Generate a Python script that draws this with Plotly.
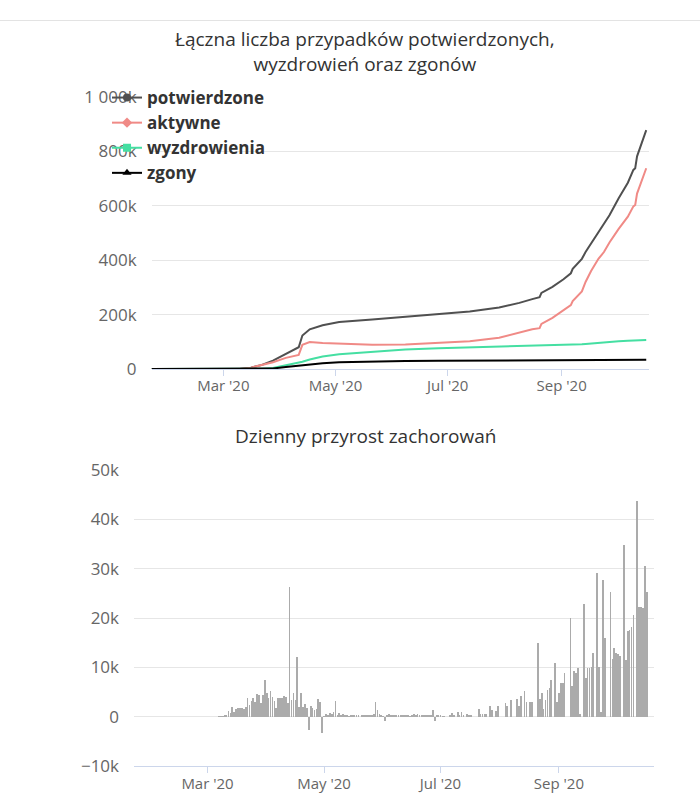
import plotly.graph_objects as go
import pandas as pd

# ---------------- data: cumulative chart (values in thousands) ----------------
line_dates = ["2020-01-22", "2020-03-10", "2020-03-16", "2020-03-22", "2020-03-28",
              "2020-04-04", "2020-04-11", "2020-04-13", "2020-04-17", "2020-04-24",
              "2020-05-03", "2020-05-21", "2020-06-08", "2020-06-26", "2020-07-13",
              "2020-07-29", "2020-08-09", "2020-08-16", "2020-08-20", "2020-08-21",
              "2020-08-27", "2020-09-02", "2020-09-06", "2020-09-07", "2020-09-12",
              "2020-09-14", "2020-09-17", "2020-09-21", "2020-09-24", "2020-09-27",
              "2020-10-02", "2020-10-07", "2020-10-10", "2020-10-11", "2020-10-12",
              "2020-10-17"]
confirmed_k = [0, 0, 5, 15, 31, 56, 80, 123, 146, 161, 173, 182, 191, 200, 211,
               226, 243, 257, 264, 280, 302, 330, 352, 368, 405, 430, 462, 505,
               535, 565, 628, 685, 732, 738, 782, 878]
active_k = [0, 0, 5, 14, 25, 41, 52, 89, 99, 96, 94, 89, 90, 95, 102,
            115, 135, 146, 150, 166, 188, 215, 235, 250, 285, 320, 360, 405,
            430, 465, 515, 560, 598, 603, 645, 738]
recovered_k = [0, 0, 0, 0.5, 4, 13, 23, 27, 35, 46, 54, 64, 72, 76, 79,
               81, 83, 84, 85, 85, 86, 88, 89, 89, 91, 92, 94, 96,
               98, 100, 102, 104, 105, 106, 106, 107]
deaths_k = [0, 0, 0, 0.3, 2, 7, 12, 14, 17, 21, 25, 28, 29, 30, 30.5,
            31, 31.3, 31.5, 31.6, 31.7, 31.9, 32.1, 32.3, 32.3, 32.5, 32.6, 32.8, 33,
            33.1, 33.3, 33.5, 33.7, 33.9, 34, 34, 34.3]

series_names = ["potwierdzone", "aktywne", "wyzdrowienia", "zgony"]
series_colors = ["#505050", "#f08a86", "#45dfa2", "#000000"]
series_symbols = ["circle", "diamond", "square", "triangle-up"]

top_yticks = [0, 200000, 400000, 600000, 800000, 1000000]
top_yticklabels = ["0", "200k", "400k", "600k", "800k", "1 000k"]
x_tickdates = ["2020-03-01", "2020-05-01", "2020-07-01", "2020-09-01"]
x_ticklabels = ["Mar '20", "May '20", "Jul '20", "Sep '20"]

# ---------------- data: daily increase (from 2020-03-01) ----------------
daily_start = "2020-03-01"
daily_new = [
    0, 0, 0, 0, 0, 0,
    50, 40, 60, 400, 270,
    1200, 800, 2000, 1000, 1500,
    1700, 1700, 1700, 1600, 2000,
    3700, 2300, 3200, 3700, 3000,
    4500, 4300, 2700, 4300, 7500,
    4800, 3700, 5200, 3900, 3200,
    1700, 3700, 3700, 3700, 4100,
    4000, 2800, 26300, 3300, 4700,
    3300, 12100, 2000, 4700, 2000,
    2500, 1800, -2800, 2100, 1700,
    1300, 1500, 3500, 3000, -3300,
    100, 600, 400, 750, 600,
    900, 3100, 400, 750, 400,
    600, 200, 400, 100, 350,
    300, 200, 250, 150, 0,
    300, 200, 400, 150, 250,
    300, 500, 2900, 1400, 470,
    200, 100, -900, 300, 500,
    400, 200, 300, 250, 300,
    200, 350, 150, 250, 200,
    100, 300, 500, 400, 600,
    300, 200, 400, 350, 150,
    200, 200, 1300, -950, 400,
    200, 270, 100, 70, 0,
    0, 200, 750, 200, 0,
    880, 200, 880, 200, 0,
    480, 200, 400, 0, 0,
    0, 1600, 500, 500, 500,
    500, 0, 2100, 1300, 0,
    1100, 2100, 0, 0, 0,
    2800, 2200, 0, 3400, 0,
    0, 3600, 2200, 4100, 0,
    5200, 3000, 0, 3000, 2900,
    0, 0, 15000,
    3500, 4700, 1600, 3300, 5400, 5800, 7400,
    0,
    10800, 2900, 4700, 6900, 6900, 8900,
    0, 0,
    20000, 6300, 9200, 8900, 9800, 600,
    0,
    22900, 7900, 9800, 9900, 10100, 13000,
    0,
    29200, 10100, 950, 27800, 16000,
    0, 0,
    25300, 11700, 13900, 13000, 12700, 12200,
    0,
    34800, 11500, 17400, 17600, 18100, 20700,
    0,
    43800, 22200, 22200, 22000, 30500, 25300,
]
bottom_yticks = [-10000, 0, 10000, 20000, 30000, 40000, 50000]
bottom_yticklabels = ["\u221210k", "0", "10k", "20k", "30k", "40k", "50k"]

titles = ["Łączna liczba przypadków potwierdzonych,<br>wyzdrowień oraz zgonów",
          "Dzienny przyrost zachorowań"]

# ---------------- figure ----------------
W, H = 700, 804
def px_x(p):
    return p / W
def px_y(p):
    return 1 - p / H

fig = go.Figure()

for vals, name, col in zip([confirmed_k, active_k, recovered_k, deaths_k],
                           series_names, series_colors):
    fig.add_trace(go.Scatter(
        x=line_dates, y=[v * 1000 for v in vals], mode="lines", name=name,
        line=dict(color=col, width=2), showlegend=False,
        xaxis="x", yaxis="y", hoverinfo="skip"))

for name, col, sym in zip(series_names, series_colors, series_symbols):
    fig.add_trace(go.Scatter(
        x=[None], y=[None], mode="lines+markers", name=name,
        line=dict(color=col, width=2),
        marker=dict(color=col, symbol=sym, size=8),
        showlegend=True, xaxis="x", yaxis="y"))

daily_dates = pd.date_range(daily_start, periods=len(daily_new), freq="D")
fig.add_trace(go.Bar(
    x=daily_dates, y=daily_new, marker=dict(color="#ababab", line=dict(width=0)),
    width=0.38 * 86400000, showlegend=False, xaxis="x2", yaxis="y2",
    hoverinfo="skip"))

tick_font = dict(family="Open Sans", size=15, color="#666666")
ytick_font = dict(family="Open Sans", size=17, color="#666666")
axis_col = "#ccd6eb"
grid_col = "#e6e6e6"

fig.update_layout(
    width=W, height=H,
    margin=dict(l=0, r=0, t=0, b=0),
    paper_bgcolor="white", plot_bgcolor="white",
    bargap=0,
    xaxis=dict(
        domain=[px_x(151.6), px_x(649)],
        range=["2020-01-22", "2020-10-18 12:00"],
        type="date", tickvals=x_tickdates, ticktext=x_ticklabels,
        tickfont=tick_font, showgrid=False, zeroline=False,
        showline=True, linecolor=axis_col, linewidth=1,
        ticks="outside", ticklen=6, tickcolor=axis_col, ticklabelstandoff=-3,
        anchor="y", automargin=False, fixedrange=True),
    yaxis=dict(
        domain=[px_y(369), px_y(97)],
        range=[0, 1000000], tickvals=top_yticks, ticktext=top_yticklabels,
        tickfont=ytick_font, showgrid=True, gridcolor=grid_col, gridwidth=1,
        zeroline=False, showline=False, ticks="", ticklabelstandoff=14,
        anchor="x", automargin=False, fixedrange=True),
    xaxis2=dict(
        domain=[px_x(134), px_x(654)],
        range=["2020-01-22 12:00", "2020-10-20 19:00"],
        type="date", tickvals=x_tickdates, ticktext=x_ticklabels,
        tickfont=tick_font, showgrid=False, zeroline=False,
        showline=True, linecolor=axis_col, linewidth=1,
        ticks="outside", ticklen=6, tickcolor=axis_col, ticklabelstandoff=-2,
        anchor="y2", automargin=False, fixedrange=True),
    yaxis2=dict(
        domain=[px_y(766), px_y(470)],
        range=[-10000, 50000], tickvals=bottom_yticks, ticktext=bottom_yticklabels,
        tickfont=ytick_font, showgrid=True, gridcolor=grid_col, gridwidth=1,
        zeroline=False, showline=False, ticks="", ticklabelstandoff=14,
        anchor="x2", automargin=False, fixedrange=True),
    legend=dict(
        x=px_x(107), y=px_y(80), xanchor="left", yanchor="top",
        bgcolor="rgba(0,0,0,0)", borderwidth=0,
        font=dict(family="Open Sans", size=17, color="#333333", weight="bold"),
        itemwidth=30, traceorder="normal"),
    annotations=[
        dict(text=titles[0], x=px_x(365), y=px_y(51), xref="paper", yref="paper",
             xanchor="center", yanchor="middle", showarrow=False,
             font=dict(family="Open Sans", size=19, color="#333333")),
        dict(text=titles[1], x=px_x(365), y=px_y(436), xref="paper", yref="paper",
             xanchor="center", yanchor="middle", showarrow=False,
             font=dict(family="Open Sans", size=19, color="#333333")),
    ],
    shapes=[dict(type="line", xref="paper", yref="paper", x0=0, x1=1,
                 y0=px_y(20.5), y1=px_y(20.5),
                 line=dict(color="#e3e3e3", width=1))],
)

fig.write_html("out.html", config={"displayModeBar": False},
               post_script="document.body.style.margin='0';")
